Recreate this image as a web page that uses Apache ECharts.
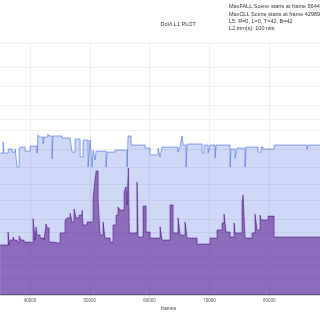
<!DOCTYPE html>
<html>
<head>
<meta charset="utf-8">
<script src="https://cdn.jsdelivr.net/npm/echarts@6/dist/echarts.min.js"></script>
<style>html,body{margin:0;padding:0;background:#fff}#c{width:320px;height:320px}</style>
</head>
<body>
<div id="c"></div>
<script>
// Scene start frames and PQ-coded (0..1) values
var maxFrames = [35000,35502,35669,36338,37006,37508,37842,38177,38344,39180,40016,41186,41354,41688,42190,42357,42989,43193,43694,43862,45366,46704,47038,47540,48376,48878,49714,50048,50382,50550,50884,51051,52723,52890,54228,56234,56402,56903,59244,60080,61418,61752,62086,64762,65096,65430,65598,66099,66266,68774,69109,69778,70112,70948,71115,73456,73623,74292,74626,75964,76131,78138,78639,78974,80813,86330,86498,88600];
var maxValues = [0.563,0.607,0.563,0.579,0.567,0.579,0.508,0.579,0.587,0.571,0.591,0.563,0.635,0.627,0.600,0.627,0.639,0.631,0.540,0.631,0.623,0.619,0.567,0.619,0.548,0.615,0.508,0.615,0.508,0.575,0.536,0.571,0.508,0.567,0.575,0.508,0.631,0.595,0.583,0.556,0.583,0.548,0.587,0.567,0.587,0.631,0.595,0.508,0.599,0.563,0.595,0.563,0.595,0.544,0.595,0.508,0.579,0.544,0.583,0.508,0.587,0.567,0.587,0.579,0.595,0.579,0.595,0.595];

var avgFrames = [35000,36338,36505,36672,37174,37341,37842,38177,38344,38511,39013,40016,40518,40852,41019,41186,41688,42357,42691,42858,43193,43694,45032,45868,46202,46704,47038,47373,47707,48209,48710,48878,49546,50550,50884,51051,51386,51720,52222,52556,53392,53894,54395,54730,55064,55733,56067,56234,56444,56610,57906,58074,58910,59411,60080,61752,62086,63424,63926,64762,65096,65932,66266,67938,70112,71282,72118,72453,72787,73456,74125,74292,75462,75630,75964,77134,77636,77970,78472,78639,79810,80813,88600];
var avgValues = [0.198,0.250,0.198,0.218,0.230,0.218,0.210,0.234,0.238,0.218,0.210,0.206,0.302,0.218,0.270,0.238,0.226,0.218,0.282,0.266,0.210,0.206,0.246,0.298,0.306,0.325,0.290,0.341,0.306,0.317,0.337,0.278,0.290,0.385,0.460,0.492,0.377,0.238,0.290,0.226,0.210,0.278,0.317,0.349,0.337,0.409,0.429,0.357,0.504,0.246,0.448,0.230,0.353,0.250,0.226,0.270,0.218,0.357,0.246,0.306,0.238,0.290,0.226,0.202,0.226,0.258,0.286,0.321,0.250,0.230,0.286,0.246,0.369,0.397,0.226,0.246,0.321,0.258,0.317,0.298,0.313,0.230,0.230];

var minFrames = [35000,88600];
var minValues = [0,0];

var xTicks = [30000,40000,50000,60000,70000,80000,90000];
var nitsTicks = [0.01,0.1,0.5,1,2.5,5,10,25,50,100,200,400,600,1000,2000,4000,10000];

var infoLines = [
  'MaxFALL Scene starts at frame 56444',
  'MaxCLL Scene starts at frame 42989',
  'L5: R=0, L=0, T=42, B=42',
  'L2 trim(s): 100 nits'
];

function pq(n){
  var m1=0.1593017578125,m2=78.84375,c1=0.8359375,c2=18.8515625,c3=18.6875;
  var y=Math.pow(n/10000,m1);
  return Math.pow((c1+c2*y)/(1+c3*y),m2);
}
var yGrid = nitsTicks.map(pq);

function pairs(f,v){return f.map(function(x,i){return [x,v[i]];});}

var chart = echarts.init(document.getElementById('c'), null, {renderer:'canvas'});
var FONT = '"Liberation Sans", Arial, sans-serif';
chart.setOption({
  animation:false,
  backgroundColor:'#ffffff',
  grid:{left:-29.8, right:-9, top:43, bottom:25, containLabel:false, outerBoundsMode:'none'},
  xAxis:{
    type:'value', min:xTicks[0], max:xTicks[xTicks.length-1], interval:10000,
    axisLine:{show:false},
    axisTick:{show:true,length:2,lineStyle:{color:'#d8d8d8'}},
    axisLabel:{fontSize:4.5,color:'#555',margin:3.5,fontFamily:FONT,formatter:function(v){return String(v);}},
    splitLine:{show:true,lineStyle:{color:'#eeeeee',width:1}}
  },
  yAxis:{
    type:'value', min:0, max:1,
    axisLine:{show:false},
    axisLabel:{show:true,customValues:yGrid,color:'rgba(0,0,0,0)',fontSize:4},
    axisTick:{show:false,customValues:yGrid},
    splitLine:{show:true,lineStyle:{color:'#eeeeee',width:1}}
  },
  series:[
    {type:'line',name:'Maximum',step:'end',symbol:'none',data:pairs(maxFrames,maxValues),
     lineStyle:{color:'rgba(65,105,225,0.6)',width:1},
     areaStyle:{color:'rgba(65,105,225,0.25)',opacity:1}},
    {type:'line',name:'Average',step:'end',symbol:'none',data:pairs(avgFrames,avgValues),
     lineStyle:{color:'rgba(75,0,130,0.55)',width:1},
     areaStyle:{color:'rgba(75,0,130,0.5)',opacity:1}},
    {type:'line',name:'Minimum',step:'end',symbol:'none',data:pairs(minFrames,minValues),
     lineStyle:{color:'rgba(0,0,0,0.6)',width:1}}
  ],
  graphic:[
    {type:'text',left:177.5-17,top:21,style:{text:'DoVi L1 PLOT',fontSize:5.5,fill:'#333',fontFamily:FONT}},
    {type:'text',left:229,top:3,style:{text:infoLines.join('\n'),fontSize:5.5,lineHeight:7.4,fill:'#333',fontFamily:FONT}},
    {type:'text',left:161,top:306.5,style:{text:'frames',fontSize:5,fill:'#444',fontFamily:FONT}}
  ]
});
</script>
</body>
</html>
